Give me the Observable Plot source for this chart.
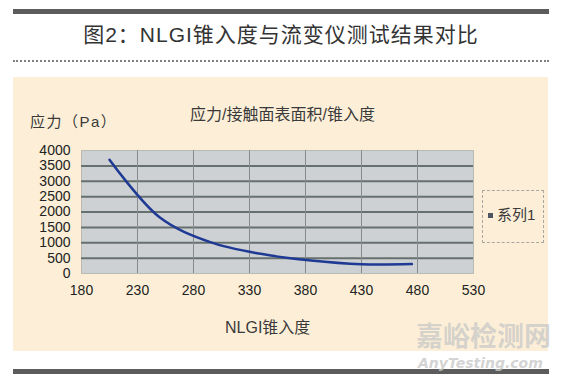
<!DOCTYPE html>
<html><head><meta charset="utf-8">
<script src="https://cdn.jsdelivr.net/npm/d3@7"></script>
<script src="https://cdn.jsdelivr.net/npm/@observablehq/plot@0.6"></script>
<style>
body{margin:0;background:#fff;}
#wrap{position:relative;width:567px;height:378px;overflow:hidden;font-family:"Liberation Sans","Noto Sans CJK SC",sans-serif;color:#333;}
.abs{position:absolute;white-space:nowrap;}
</style></head><body>
<div id="wrap">
  <div class="abs" style="left:13px;top:9px;width:536px;height:5px;background:#5c5c5c"></div>
  <div class="abs" style="left:13px;width:536px;top:20px;text-align:center;font-size:21px;line-height:30px;color:#333;letter-spacing:1px">图2：NLGI锥入度与流变仪测试结果对比</div>
  <div class="abs" style="left:13px;top:60px;width:536px;border-top:2px dotted #808080"></div>
  <div class="abs" style="left:13px;top:77px;width:535px;height:274px;background:#fdefd7"></div>
  <div class="abs" style="left:13px;top:369px;width:536px;height:5px;background:#5c5c5c"></div>
  <div id="chart" class="abs" style="left:0;top:0"></div>
  <div class="abs" style="left:190px;top:104px;font-size:16px;line-height:22px;color:#3a3a3a">应力/接触面表面积/锥入度</div>
  <div class="abs" style="left:30px;top:111px;font-size:15px;line-height:22px;color:#3a3a3a;letter-spacing:1.5px">应力（Pa）</div>
  <div class="abs" style="left:225px;top:317px;font-size:16px;line-height:22px;color:#3a3a3a">NLGI锥入度</div>
  <div class="abs" style="left:482px;top:190px;width:60px;height:51px;border:1px dashed #a8a8a0"></div>
  <div class="abs" style="left:488px;top:213px;width:5px;height:5px;background:#4d5560"></div>
  <div class="abs" style="left:497px;top:204px;font-size:15px;line-height:22px;color:#3a3a3a">系列1</div>
  <div class="abs" style="left:416px;top:320px;font-size:27px;line-height:34px;color:rgba(200,200,200,0.75);font-weight:bold">嘉峪检测网</div>
  <div class="abs" style="left:418px;top:354px;font-size:14px;line-height:18px;color:rgba(200,200,200,0.8);font-weight:bold;font-style:italic;font-family:'DejaVu Sans',sans-serif">AnyTesting.com</div>
</div>
<script>
// data
const penetration = [205, 250, 295, 340, 385, 430, 475];
const stress = [3700, 1820, 1020, 640, 420, 300, 305];
const xTickValues = [180, 230, 280, 330, 380, 430, 480, 530];
const yTickValues = [0, 500, 1000, 1500, 2000, 2500, 3000, 3500, 4000];
const gridValues = [500, 1000, 1500, 2000, 2500, 3000, 3500];

const data = penetration.map((x, i) => ({x, y: stress[i]}));

const chart = Plot.plot({
  width: 567,
  height: 378,
  marginLeft: 81,
  marginRight: 94,
  marginTop: 150,
  marginBottom: 105,
  style: {background: "transparent", fontFamily: "'Liberation Sans', 'Noto Sans CJK SC', sans-serif", fontSize: "14px", color: "#222"},
  x: {domain: [180, 530]},
  y: {domain: [0, 4000]},
  marks: [
    Plot.frame({fill: "#ced1d3", stroke: "#b9bab2"}),
    Plot.ruleY(gridValues, {stroke: "#66706e", strokeWidth: 2}),
    Plot.axisX({ticks: xTickValues, tickFormat: "d", tickSize: 0, tickPadding: 12, label: null, fontSize: 14, fill: "#222"}),
    Plot.tickX(xTickValues.slice(1, -1), {y1: 0, y2: 60, stroke: "#8a8a8a", strokeWidth: 1}),
    Plot.axisY({ticks: yTickValues, tickFormat: "d", tickSize: 0, tickPadding: 11, label: null, fontSize: 14, fill: "#222"}),
    Plot.line(data, {x: "x", y: "y", curve: "catmull-rom", stroke: "#1f3a94", strokeWidth: 2.5})
  ]
});
document.getElementById("chart").appendChild(chart);
</script>
</body></html>
